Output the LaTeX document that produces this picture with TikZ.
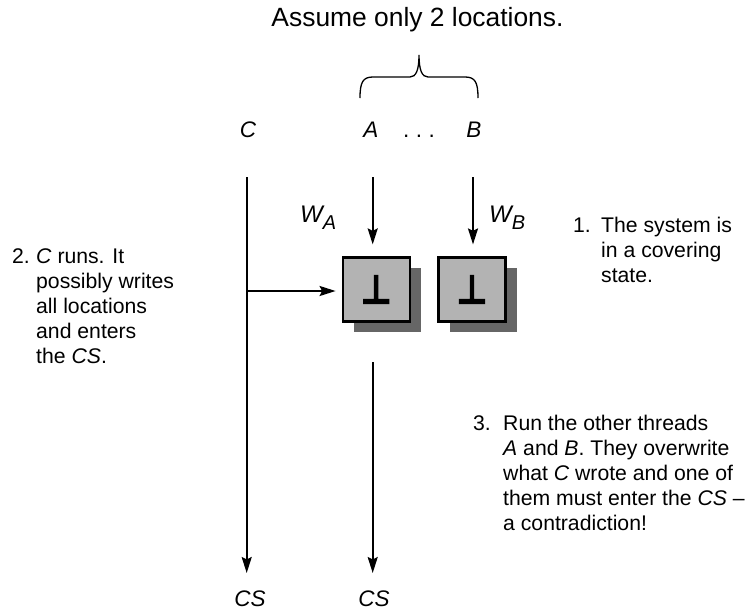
\documentclass[tikz,border=0pt]{standalone}
\usepackage{fontspec}
\setmainfont{Liberation Sans}
\newfontfamily\botfont{DejaVu Sans Bold}[BoldFont=DejaVu Sans Bold,BoldFeatures={FakeBold=2.5}]
\usetikzlibrary{arrows.meta,shadows}
\definecolor{boxgray}{HTML}{B3B3B3}
\definecolor{shadowgray}{HTML}{666666}
\newcommand{\botsym}{\scalebox{0.85}[1]{\botfont\bfseries\fontsize{40}{42}\selectfont ⊥}}
\begin{document}
\begin{tikzpicture}[x=1pt,y=-1pt,
  arr/.style={line width=2pt,-{Stealth[length=16pt,width=10pt,inset=2.5pt]}},
  cell/.style={draw,line width=2.2pt,fill=boxgray,minimum width=67pt,minimum height=64pt,inner sep=0pt,
    drop shadow={shadow xshift=11pt,shadow yshift=-10pt,fill=shadowgray,opacity=1}},
  lab/.style={font=\fontsize{22.5}{26}\selectfont\itshape,inner sep=0pt,anchor=base},
  wlab/.style={font=\fontsize{24}{28}\selectfont\itshape,inner sep=0pt,anchor=base west},
  body/.style={font=\fontsize{21.2}{25}\selectfont,inner sep=0pt,anchor=base west},
  bracestyle/.style={line width=1.3pt}]
\useasboundingbox (0,0) rectangle (753,611);

% title
\node[font=\fontsize{26.4}{30}\selectfont,inner sep=0pt,anchor=base] (title) at (417.5,26) {Assume only 2 locations.};

% brace
\draw[bracestyle] (360,98) .. controls (360,82) and (363,77) .. (373,77) -- (410,77)
  .. controls (416,77) and (419,70) .. (419,55)
  .. controls (419,70) and (422,77) .. (428,77) -- (465,77)
  .. controls (475,77) and (478,82) .. (478,98);

% thread labels
\node[lab] (C) at (248,137) {C};
\node[lab] (A) at (371,137) {A};
\node[lab,font=\fontsize{22.5}{26}\selectfont] (dots) at (419,137) {.\kern6.4pt.\kern6.4pt.};
\node[lab] (B) at (474,137) {B};

% boxes
\node[cell] (bA) at (376.2,289.5) {\botsym};
\node[cell] (bB) at (472,289.5) {\botsym};

% write labels
\node[wlab] (WA) at (300,222) {W\raisebox{-7pt}{\fontsize{20}{22}\selectfont A}};
\node[wlab] (WB) at (489,222) {W\raisebox{-7pt}{\fontsize{20}{22}\selectfont B}};

% CS labels
\node[lab] (CS1) at (250,606) {CS};
\node[lab] (CS2) at (374,606) {CS};

% connectors
\coordinate (c1) at (246.7,177);
\coordinate (c2) at (246.7,573);
\coordinate (cMid) at (246.7,291);
\coordinate (aTop) at (372.7,177);
\coordinate (bTop) at (473,177);
\coordinate (aBot1) at (372.7,362);
\coordinate (aBot2) at (372.7,573);

\draw[arr] (c1) -- (c2);
\draw[arr,shorten >=6pt] (cMid) -- (bA.west |- cMid);
\draw[arr,shorten >=12pt] (aTop) -- (aTop |- bA.north);
\draw[arr,shorten >=12pt] (bTop) -- (bTop |- bB.north);
\draw[arr] (aBot1) -- (aBot2);

% explanatory texts
\node[body] (t1) at (573,232) {\begin{tabular}[t]{@{}p{28pt}@{}l@{}}
1. & The system is\\
   & in a covering\\
   & state.
\end{tabular}};
\node[body] (t2) at (12,263) {\begin{tabular}[t]{@{}p{24pt}@{}l@{}}
2. & \textit{C} runs. It\\
   & possibly writes\\
   & all locations\\
   & and enters\\
   & the \textit{CS}.
\end{tabular}};
\node[body] (t3) at (473,430) {\begin{tabular}[t]{@{}p{30pt}@{}l@{}}
3. & Run the other threads\\
   & \textit{A} and \textit{B}. They overwrite\\
   & what \textit{C} wrote and one of\\
   & them must enter the \textit{CS} –\\
   & a contradiction!
\end{tabular}};
\end{tikzpicture}
\end{document}
